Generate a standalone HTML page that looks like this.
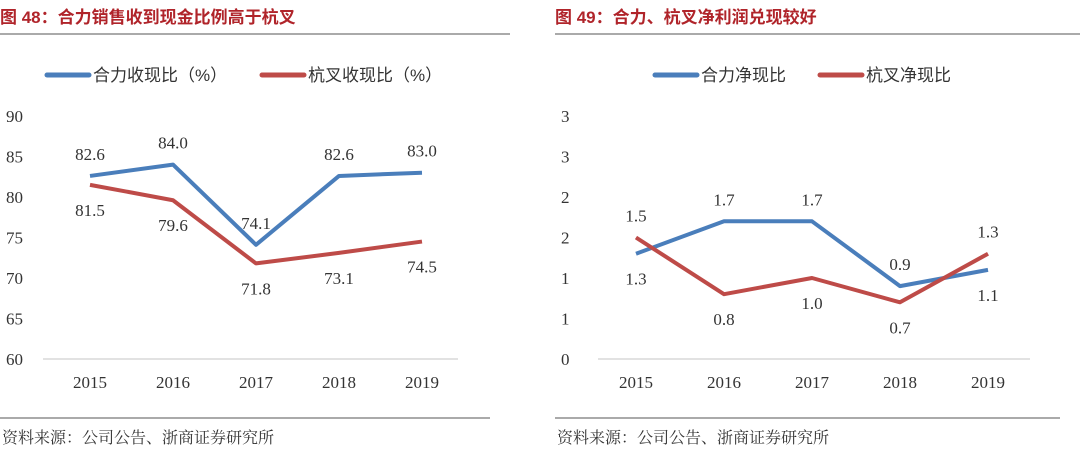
<!DOCTYPE html>
<html><head><meta charset="utf-8"><style>
body{margin:0;width:1080px;height:452px;background:#fff;overflow:hidden;font-family:"Liberation Serif","Noto Serif CJK SC",serif}
</style></head><body>
<svg width="1080" height="452" xmlns="http://www.w3.org/2000/svg">
<g id="left"></g>
<g id="right"></g>
</svg>
<script>
const years=["2015","2016","2017","2018","2019"];
const heliCash=[82.6,84.0,74.1,82.6,83.0];
const hangchaCash=[81.5,79.6,71.8,73.1,74.5];
const leftTicks=["60","65","70","75","80","85","90"];
const heliNet=[1.3,1.7,1.7,0.9,1.1];
const hangchaNet=[1.5,0.8,1.0,0.7,1.3];
const rightTicks=["0","1","1","2","2","3","3"];
const NS="http://www.w3.org/2000/svg";
const BLUE="#4a7ebb",RED="#be4b48";
function mk(p,t,a,txt){const e=document.createElementNS(NS,t);for(const k in a)e.setAttribute(k,a[k]);if(txt!=null)e.textContent=txt;p.appendChild(e);return e;}
function panel(g,o){
  const t=mk(g,"text",{x:o.x0,y:23,"font-size":17,"font-weight":"bold",fill:"#b0242a","font-family":"Liberation Sans, Noto Sans CJK SC, sans-serif"},o.title);
  
  
  const l1=mk(g,"line",{x1:o.x0,x2:o.x0+o.tw,y1:34,y2:34,stroke:"#555","stroke-width":1});
  
  
  const l2=mk(g,"line",{x1:o.x0,x2:o.x0+o.bw,y1:418,y2:418,stroke:"#555","stroke-width":1});
  
  
  const s=mk(g,"text",{x:o.x0+2,y:443,"font-size":16,fill:"#333"},"资料来源：公司公告、浙商证券研究所");
  
  
  const Y0=359,Y1=116;
  const yS=v=>Y0-(v-o.min)/(o.max-o.min)*(Y0-Y1);
  const xS=i=>o.cx0+i*o.step;
  const ax=mk(g,"line",{x1:o.ax0,x2:o.ax1,y1:Y0,y2:Y0,stroke:"#d9d9d9","stroke-width":1.5});
  
  
  o.ticks.forEach((tk,i)=>{const v=o.min+i*(o.max-o.min)/(o.ticks.length-1);
    const e=mk(g,"text",{x:o.x0+6,y:yS(v)+6,"font-size":17,fill:"#333"},tk);
    
    });
  years.forEach((y,i)=>{const e=mk(g,"text",{x:xS(i),y:388,"font-size":17,fill:"#333","text-anchor":"middle"},y);
    
    });
  o.series.forEach((s,si)=>{
    const pl=mk(g,"polyline",{points:s.v.map((v,i)=>xS(i)+","+yS(v)).join(" "),fill:"none",stroke:s.c,"stroke-width":4,"stroke-linejoin":"round"});
    
    
    s.v.forEach((v,i)=>{const up=s.pos[i];
      const e=mk(g,"text",{x:xS(i),y:yS(v)+(up?-16:31),"font-size":17,fill:"#333","text-anchor":"middle"},v.toFixed(1));
      
      });
    const lx=o.legX[si];
    const lg=mk(g,"line",{x1:lx,x2:lx+42,y1:75,y2:75,stroke:s.c,"stroke-width":5,"stroke-linecap":"round"});
    
    
    const lt=mk(g,"text",{x:lx+46,y:81,"font-size":17,fill:"#333","font-family":"Liberation Sans, Noto Sans CJK SC, sans-serif"},s.label);
    
    
  });
}
panel(document.getElementById("left"),{x0:0,tw:510,bw:490,title:"图 48：合力销售收到现金比例高于杭叉",min:60,max:90,ticks:leftTicks,
 cx0:90,step:83,ax0:43,ax1:458,legX:[47,262],
 series:[{v:heliCash,c:BLUE,n:"heli",label:"合力收现比（%）",pos:[1,1,1,1,1]},
         {v:hangchaCash,c:RED,n:"hangcha",label:"杭叉收现比（%）",pos:[0,0,0,0,0]}]});
panel(document.getElementById("right"),{x0:555,tw:525,bw:505,title:"图 49：合力、杭叉净利润兑现较好",min:0,max:3,ticks:rightTicks,
 cx0:636,step:88,ax0:598,ax1:1030,legX:[655,820],
 series:[{v:heliNet,c:BLUE,n:"heli",label:"合力净现比",pos:[0,1,1,1,0]},
         {v:hangchaNet,c:RED,n:"hangcha",label:"杭叉净现比",pos:[1,0,0,0,1]}]});
</script>
</body></html>
